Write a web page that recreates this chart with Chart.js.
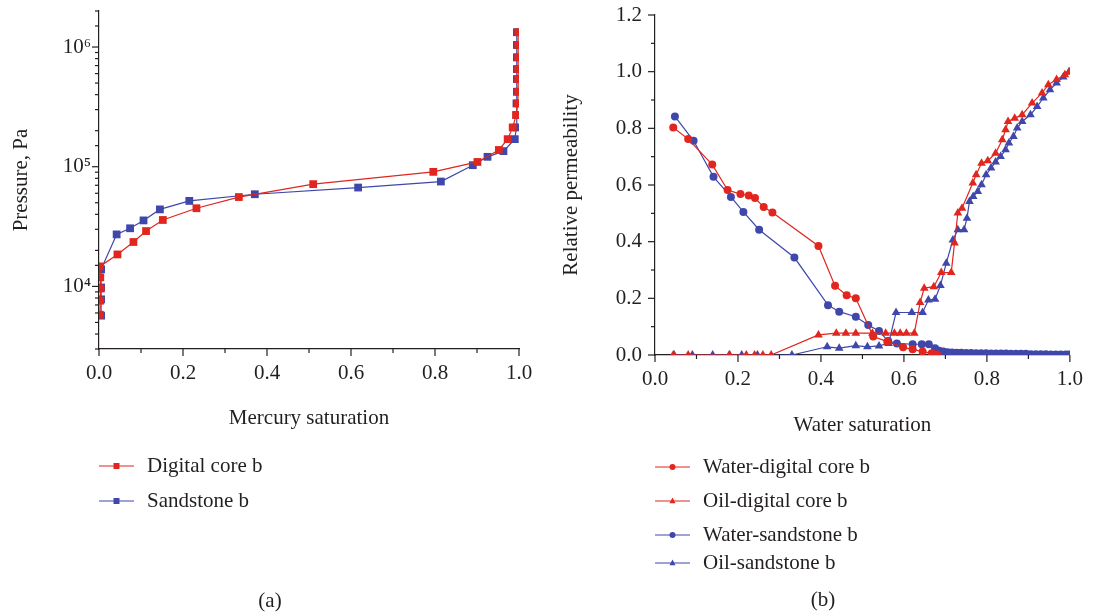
<!DOCTYPE html>
<html>
<head>
<meta charset="utf-8">
<script src="https://cdn.jsdelivr.net/npm/chart.js"></script>
<style>
  html, body { margin: 0; padding: 0; background: #fff; }
  #wrap { position: relative; width: 1095px; height: 616px; }
  .panel { position: absolute; top: 0; height: 616px; }
  #panelA { left: 0; width: 547px; }
  #panelB { left: 547px; width: 548px; }
</style>
</head>
<body>
<div id="wrap">
  <div class="panel" id="panelA"><canvas id="capillary_chart"></canvas></div>
  <div class="panel" id="panelB"><canvas id="relperm_chart"></canvas></div>
</div>
<script>
// (a) capillary pressure curves
var digitalSat = [0.002, 0.003, 0.004, 0.003, 0.002, 0.044, 0.082, 0.112, 0.152, 0.232, 0.333, 0.510, 0.796, 0.901, 0.952, 0.973, 0.985, 0.993, 0.997, 0.998, 0.998, 0.998, 0.998, 0.998, 0.998];
var digitalPres = [5800, 7600, 9600, 11900, 14700, 18500, 23500, 29000, 35900, 45000, 55800, 71500, 90600, 109600, 138000, 170000, 213000, 270000, 338000, 423000, 540000, 654000, 820000, 1040000, 1330000];
var sandSat = [0.005, 0.005, 0.005, 0.005, 0.042, 0.074, 0.106, 0.145, 0.215, 0.371, 0.617, 0.814, 0.890, 0.925, 0.963, 0.990, 0.994, 0.994, 0.994, 0.995, 0.995, 0.995, 0.995, 0.995, 0.995];
var sandPres = [5700, 7800, 9800, 13900, 27200, 30600, 35600, 44000, 51800, 58900, 67000, 75200, 103000, 121000, 135000, 170000, 213000, 270000, 338000, 423000, 540000, 654000, 820000, 1040000, 1330000];

// (b) relative permeability curves
var waterDigitalSw = [0.044, 0.080, 0.138, 0.175, 0.206, 0.226, 0.241, 0.262, 0.283, 0.394, 0.434, 0.462, 0.484, 0.526, 0.560, 0.598, 0.621, 0.645, 0.667, 0.680];
var waterDigitalKr = [0.803, 0.762, 0.672, 0.582, 0.568, 0.563, 0.554, 0.522, 0.503, 0.385, 0.244, 0.211, 0.200, 0.065, 0.047, 0.027, 0.020, 0.012, 0.006, 0.002];
var oilDigitalSw = [0.044, 0.080, 0.180, 0.220, 0.240, 0.260, 0.280, 0.394, 0.437, 0.460, 0.484, 0.524, 0.556, 0.577, 0.591, 0.606, 0.625, 0.639, 0.649, 0.672, 0.690, 0.714, 0.722, 0.730, 0.740, 0.766, 0.774, 0.787, 0.802, 0.821, 0.837, 0.845, 0.851, 0.867, 0.885, 0.909, 0.933, 0.948, 0.968, 0.988, 0.998];
var oilDigitalKr = [0, 0, 0, 0, 0, 0, 0, 0.071, 0.077, 0.077, 0.077, 0.077, 0.077, 0.077, 0.077, 0.077, 0.077, 0.185, 0.236, 0.241, 0.291, 0.291, 0.395, 0.501, 0.518, 0.607, 0.636, 0.677, 0.686, 0.712, 0.760, 0.795, 0.824, 0.836, 0.848, 0.889, 0.925, 0.954, 0.972, 0.989, 0.998];
var waterSandSw = [0.048, 0.093, 0.141, 0.183, 0.213, 0.251, 0.336, 0.417, 0.444, 0.484, 0.514, 0.540, 0.562, 0.583, 0.621, 0.643, 0.660, 0.675, 0.685, 0.695, 0.705, 0.716, 0.727, 0.738, 0.750, 0.762, 0.774, 0.786, 0.798, 0.810, 0.822, 0.834, 0.846, 0.858, 0.870, 0.882, 0.894, 0.906, 0.918, 0.930, 0.942, 0.954, 0.966, 0.978, 0.990, 0.998];
var waterSandKr = [0.842, 0.756, 0.629, 0.558, 0.505, 0.442, 0.344, 0.176, 0.153, 0.135, 0.106, 0.085, 0.049, 0.041, 0.038, 0.038, 0.038, 0.024, 0.015, 0.012, 0.010, 0.009, 0.008, 0.008, 0.007, 0.007, 0.006, 0.006, 0.006, 0.005, 0.005, 0.005, 0.005, 0.004, 0.004, 0.004, 0.004, 0.003, 0.003, 0.003, 0.003, 0.002, 0.002, 0.002, 0.002, 0.002];
var oilSandSw = [0.046, 0.090, 0.139, 0.179, 0.209, 0.247, 0.330, 0.415, 0.444, 0.484, 0.512, 0.540, 0.563, 0.581, 0.619, 0.645, 0.659, 0.675, 0.688, 0.702, 0.718, 0.730, 0.745, 0.752, 0.758, 0.767, 0.778, 0.787, 0.798, 0.810, 0.821, 0.833, 0.845, 0.853, 0.864, 0.873, 0.885, 0.905, 0.921, 0.936, 0.952, 0.968, 0.984, 0.998];
var oilSandKr = [0, 0, 0, 0, 0, 0, 0, 0.029, 0.024, 0.033, 0.029, 0.032, 0.041, 0.150, 0.150, 0.150, 0.194, 0.197, 0.245, 0.324, 0.406, 0.442, 0.442, 0.483, 0.542, 0.559, 0.577, 0.601, 0.636, 0.660, 0.681, 0.701, 0.724, 0.748, 0.771, 0.801, 0.824, 0.848, 0.877, 0.907, 0.936, 0.960, 0.981, 1.0];

var red = '#e0261e';
var blue = '#3f47aa';
var ink = '#231f20';
var serif = "'Liberation Serif', 'Times New Roman', serif";

function pts(xs, ys) {
  var out = [];
  for (var i = 0; i < xs.length; i++) out.push({x: xs[i], y: ys[i]});
  return out;
}

function series(label, xs, ys, color, style, radius) {
  return {
    label: label,
    data: pts(xs, ys),
    borderColor: color,
    backgroundColor: color,
    borderWidth: 1.2,
    pointStyle: style,
    pointRadius: radius,
    pointBorderWidth: 0,
    pointBackgroundColor: color,
    tension: 0
  };
}

// tick marks outside the axes, long for labelled ticks and short for the rest
var tickMarks = {
  id: 'tickMarks',
  afterDraw: function(chart) {
    var ctx = chart.ctx;
    ctx.save();
    ctx.strokeStyle = ink;
    ctx.lineWidth = 1.2;
    Object.keys(chart.scales).forEach(function(id) {
      var scale = chart.scales[id];
      scale.ticks.forEach(function(t) {
        var p = scale.getPixelForValue(t.value);
        var len = t.label ? 7 : 4;
        ctx.beginPath();
        if (scale.isHorizontal()) {
          ctx.moveTo(p, scale.top);
          ctx.lineTo(p, scale.top + len);
        } else {
          ctx.moveTo(scale.right, p);
          ctx.lineTo(scale.right - len, p);
        }
        ctx.stroke();
      });
    });
    ctx.restore();
  }
};

function drawMarker(ctx, style, x, y, r) {
  ctx.beginPath();
  if (style === 'rect') {
    ctx.rect(x - r, y - r, 2 * r, 2 * r);
  } else if (style === 'triangle') {
    ctx.moveTo(x, y - r * 1.15);
    ctx.lineTo(x + r, y + r * 0.75);
    ctx.lineTo(x - r, y + r * 0.75);
    ctx.closePath();
  } else {
    ctx.arc(x, y, r, 0, Math.PI * 2);
  }
  ctx.fill();
}

// legend with line + marker samples stacked under the plot, and the panel caption
var sampleLegend = {
  id: 'sampleLegend',
  afterDraw: function(chart, args, opts) {
    var ctx = chart.ctx;
    var x0 = chart.chartArea.left;
    ctx.save();
    chart.data.datasets.forEach(function(ds, i) {
      var y = opts.rows[i];
      ctx.strokeStyle = ds.borderColor;
      ctx.fillStyle = ds.borderColor;
      ctx.lineWidth = 1.2;
      ctx.beginPath();
      ctx.moveTo(x0, y);
      ctx.lineTo(x0 + 35, y);
      ctx.stroke();
      drawMarker(ctx, ds.pointStyle, x0 + 17.5, y, 3);
      ctx.fillStyle = ink;
      ctx.font = '21px ' + serif;
      ctx.textAlign = 'left';
      ctx.textBaseline = 'middle';
      ctx.fillText(ds.label, x0 + opts.textGap, y);
    });
    ctx.textAlign = 'center';
    ctx.fillText(opts.caption, opts.captionX, opts.captionY);
    ctx.restore();
  }
};

Chart.defaults.font.family = serif;
Chart.defaults.font.size = 21;
Chart.defaults.color = ink;

function oneDecimal(v) {
  var tenths = Math.round(v * 10);
  return tenths % 2 === 0 ? (tenths / 10).toFixed(1) : '';
}

function noPad(s) {
  s.paddingTop = 0;
  s.paddingBottom = 0;
}

var supers = {'3': '³', '4': '⁴', '5': '⁵', '6': '⁶'};

new Chart(document.getElementById('capillary_chart'), {
  type: 'line',
  data: {
    datasets: [
      series('Digital core b', digitalSat, digitalPres, red, 'rect', 5.5),
      series('Sandstone b', sandSat, sandPres, blue, 'rect', 5.5)
    ]
  },
  options: {
    responsive: true,
    maintainAspectRatio: false,
    animation: false,
    layout: { padding: { left: 0, right: 28, top: 11, bottom: 185 } },
    plugins: {
      legend: { display: false },
      tooltip: { enabled: false },
      sampleLegend: { rows: [466, 501], textGap: 48, caption: '(a)', captionX: 270, captionY: 601 }
    },
    scales: {
      x: {
        type: 'linear',
        min: 0, max: 1,
        grid: { display: false, drawTicks: false },
        border: { display: true, color: ink, width: 1.2 },
        ticks: { stepSize: 0.1, autoSkip: false, maxRotation: 0, padding: 12, callback: oneDecimal },
        title: { display: true, text: 'Mercury saturation', padding: 0 },
        afterFit: function(s) { s.height = 82; }
      },
      y: {
        type: 'logarithmic',
        min: 3000, max: 2000000,
        grid: { display: false, drawTicks: false },
        border: { display: true, color: ink, width: 1.2 },
        ticks: {
          autoSkip: false, padding: 8,
          callback: function(v) {
            var e = Math.log10(v);
            if (Math.abs(e - Math.round(e)) < 1e-9) return '10' + supers[String(Math.round(e))];
            return '';
          }
        },
        title: { display: true, text: 'Pressure, Pa', padding: { top: 9, bottom: 0 } },
        afterFit: function(s) { s.width = 99; noPad(s); }
      }
    }
  },
  plugins: [tickMarks, sampleLegend]
});

new Chart(document.getElementById('relperm_chart'), {
  type: 'line',
  data: {
    datasets: [
      series('Water-digital core b', waterDigitalSw, waterDigitalKr, red, 'circle', 4),
      series('Oil-digital core b', oilDigitalSw, oilDigitalKr, red, 'triangle', 5),
      series('Water-sandstone b', waterSandSw, waterSandKr, blue, 'circle', 4),
      series('Oil-sandstone b', oilSandSw, oilSandKr, blue, 'triangle', 5)
    ]
  },
  options: {
    responsive: true,
    maintainAspectRatio: false,
    animation: false,
    layout: { padding: { left: 0, right: 20, top: 15, bottom: 178 } },
    plugins: {
      legend: { display: false },
      tooltip: { enabled: false },
      sampleLegend: { rows: [467, 501, 535, 563], textGap: 48, caption: '(b)', captionX: 276, captionY: 600 }
    },
    scales: {
      x: {
        type: 'linear',
        min: 0, max: 1,
        grid: { display: false, drawTicks: false },
        border: { display: true, color: ink, width: 1.2 },
        ticks: { stepSize: 0.1, autoSkip: false, maxRotation: 0, padding: 12, callback: oneDecimal },
        title: { display: true, text: 'Water saturation', padding: 0 },
        afterFit: function(s) { s.height = 83; }
      },
      y: {
        type: 'linear',
        min: 0, max: 1.2,
        grid: { display: false, drawTicks: false },
        border: { display: true, color: ink, width: 1.2 },
        ticks: { stepSize: 0.1, autoSkip: false, padding: 13, callback: oneDecimal },
        title: { display: true, text: 'Relative permeability', padding: { top: 12, bottom: 0 } },
        afterFit: function(s) { s.width = 108; noPad(s); }
      }
    }
  },
  plugins: [tickMarks, sampleLegend]
});
</script>
</body>
</html>
